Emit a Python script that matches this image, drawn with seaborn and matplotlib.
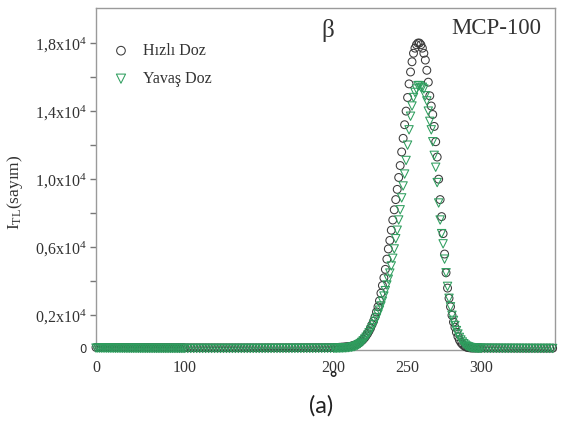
import numpy as np
import matplotlib
matplotlib.use("Agg")
import matplotlib.pyplot as plt
import seaborn as sns

# ---- data -------------------------------------------------------------
# temperature sampling (°C)
temp_low = list(range(0, 200, 2))
temp_peak = list(range(200, 300))
temp_high = list(range(300, 349, 2))

# TL intensity (counts) - Hızlı Doz
hizli_low = [112, 111, 110, 109, 108, 107, 106, 105, 104, 103,
             102, 101, 100, 100, 99, 99, 98, 98, 97, 97,
             96, 96, 96, 95, 95, 95, 94, 94, 94, 94,
             93, 93, 93, 93, 92, 92, 92, 92, 92, 91,
             91, 91, 91, 91, 90, 90, 90, 90, 90, 90,
             89, 89, 89, 89, 89, 89, 89, 89, 88, 88,
             88, 88, 88, 88, 88, 88, 88, 88, 88, 88,
             88, 88, 88, 88, 88, 88, 88, 89, 89, 89,
             89, 89, 90, 90, 90, 91, 91, 92, 92, 93,
             93, 94, 94, 95, 95, 96, 96, 97, 98, 99]
hizli_peak = [100, 100, 110, 110, 120, 120, 130, 130, 140, 150,
              150, 170, 190, 210, 240, 270, 310, 360, 420, 500,
              580, 680, 800, 930, 1080, 1250, 1450, 1650, 1900, 2200,
              2500, 2850, 3300, 3750, 4200, 4700, 5300, 5900, 6400, 7000,
              7600, 8200, 8800, 9400, 10100, 10800, 11600, 12400, 13200, 14000,
              14800, 15600, 16300, 16900, 17400, 17700, 17900, 18000, 18000, 17900,
              17700, 17400, 17000, 16400, 15700, 14900, 14300, 13800, 13100, 12200,
              11300, 10000, 8800, 7800, 6800, 5600, 4500, 3600, 3000, 2500,
              2000, 1600, 1300, 1000, 750, 550, 400, 300, 220, 160,
              120, 100, 90, 80, 80, 80, 80, 80, 80, 80]
hizli_high = [80, 79, 78, 77, 76, 76, 75, 74, 74, 73, 73, 72, 72,
              71, 71, 70, 70, 70, 69, 69, 69, 68, 68, 68, 68]

# TL intensity (counts) - Yavaş Doz
yavas_low = [72, 71, 70, 69, 68, 67, 66, 65, 64, 63,
             62, 62, 61, 61, 60, 60, 59, 59, 58, 58,
             58, 57, 57, 57, 56, 56, 56, 56, 55, 55,
             55, 55, 55, 54, 54, 54, 54, 54, 54, 53,
             53, 53, 53, 53, 53, 53, 53, 52, 52, 52,
             52, 52, 52, 52, 52, 52, 52, 52, 52, 52,
             52, 52, 52, 52, 52, 52, 52, 52, 52, 52,
             52, 52, 52, 52, 52, 52, 52, 53, 53, 53,
             53, 53, 53, 54, 54, 54, 54, 55, 55, 55,
             55, 56, 56, 56, 57, 57, 58, 58, 59, 59]
yavas_peak = [60, 60, 65, 65, 70, 70, 75, 80, 85, 90,
              100, 110, 120, 140, 160, 190, 230, 280, 340, 410,
              500, 600, 710, 830, 970, 1120, 1280, 1460, 1650, 1850,
              2070, 2300, 2550, 2830, 3130, 3450, 3780, 4120, 4480, 4900,
              5350, 5900, 6500, 7000, 7600, 8200, 8900, 9600, 10300, 11100,
              12000, 12900, 13700, 14300, 14800, 15100, 15300, 15500, 15500, 15400,
              15400, 15300, 14900, 14600, 14000, 13400, 12900, 12200, 11400, 10700,
              9800, 8600, 7600, 6800, 6200, 5300, 4500, 3700, 3000, 2500,
              2000, 1700, 1400, 1100, 900, 700, 550, 430, 330, 250,
              190, 150, 120, 100, 90, 80, 70, 60, 60, 60]
yavas_high = [58, 58, 57, 56, 56, 55, 55, 54, 54, 53, 53, 53, 52,
              52, 52, 51, 51, 51, 51, 50, 50, 50, 50, 50, 50]

x_tick_values = [0, 100, 200, 250, 300]
x_tick_labels = ["0", "100", "200", "250", "300"]
y_tick_values = [2000, 4000, 6000, 8000, 10000, 12000, 14000, 16000, 18000]
y_tick_labels = [r"0,2x10$^4$", "", r"0,6x10$^4$", "", r"1,0x10$^4$", "",
                 r"1,4x10$^4$", "", r"1,8x10$^4$"]

temp = temp_low + temp_peak + temp_high
hizli = hizli_low + hizli_peak + hizli_high
yavas = yavas_low + yavas_peak + yavas_high

# ---- style ------------------------------------------------------------
sns.set_style("ticks")
plt.rcParams["font.family"] = ["Liberation Serif", "DejaVu Serif"]
plt.rcParams["mathtext.default"] = "regular"

W, H = 567, 423
fig = plt.figure(figsize=(W / 100, H / 100), dpi=100)
ax = fig.add_axes([96 / W, 1 - 350 / H, 459 / W, 342 / H])


def fwd(t):
    t = np.asarray(t, float)
    return np.where(t < 100, t * 0.6,
                    np.where(t < 200, 60 + (t - 100) * 1.005, t - 39.5))


def inv(u):
    u = np.asarray(u, float)
    return np.where(u < 60, u / 0.6,
                    np.where(u < 160.5, 100 + (u - 60) / 1.005, u + 39.5))


ax.set_xscale("function", functions=(fwd, inv))

circ_col = "#3a3a3a"
tri_col = "#2e9e5e"

sns.scatterplot(x=temp, y=hizli, ax=ax, marker="o", s=32,
                facecolor="none", edgecolor=circ_col, linewidth=0.75,
                label="Hızlı Doz", clip_on=False, zorder=3)
sns.scatterplot(x=temp, y=yavas, ax=ax, marker="v", s=36,
                facecolor="none", edgecolor=tri_col, linewidth=0.75,
                label="Yavaş Doz", clip_on=False, zorder=4)

ax.set_xlim(0, 349.6)
ax.set_ylim(-40, 20060)

# spines
for sp in ax.spines.values():
    sp.set_visible(True)
    sp.set_color("#9a9a9a")
    sp.set_linewidth(1.0)

# x ticks: labels only, one visible tick mark at 250
ax.set_xticks(x_tick_values)
ax.set_xticklabels(x_tick_labels)
ax.tick_params(axis="x", which="major", length=0, pad=7, labelsize=11.5,
               labelcolor="#333333")
ax.set_xticks([250], minor=True)
ax.tick_params(axis="x", which="minor", length=4, width=1, color="#777777",
               direction="out")

# y ticks
ax.set_yticks(y_tick_values)
ax.set_yticklabels(y_tick_labels)
ax.tick_params(axis="y", which="major", length=4, width=1, color="#777777",
               direction="out", pad=3, labelsize=11.5, labelcolor="#333333")
ax.text(-0.028, 0, "0", transform=ax.get_yaxis_transform(), ha="center",
        va="center", fontsize=8.5, family="DejaVu Sans", color="#333333")

ax.set_xlabel("")
ax.set_ylabel(r"I$_{TL}$(sayım)", fontsize=12.5, color="#333333")
ax.yaxis.set_label_coords(-0.155, 0.462)

leg = ax.legend(loc="upper left", bbox_to_anchor=(0.037, 0.898),
                frameon=False, borderaxespad=0, borderpad=0,
                handlelength=1.0, handletextpad=0.85, labelspacing=0.75,
                fontsize=11.5, markerscale=1.1)
for t in leg.get_texts():
    t.set_color("#333333")

fig.text(328 / W, 1 - 31 / H, "β", fontsize=18, ha="center", va="center",
         color="#333333")
fig.text(541 / W, 1 - 28 / H, "MCP-100", fontsize=16.5, ha="right",
         va="center", color="#333333")
fig.text(321 / W, 1 - 406 / H, "(a)", fontsize=17, ha="center", va="center",
         family="Lato", color="#222222")
fig.text(333 / W, 1 - 384 / H, "˚", fontsize=16, ha="center", va="center",
         family="DejaVu Sans", color="#222222")

fig.savefig("out.png", dpi=100)
